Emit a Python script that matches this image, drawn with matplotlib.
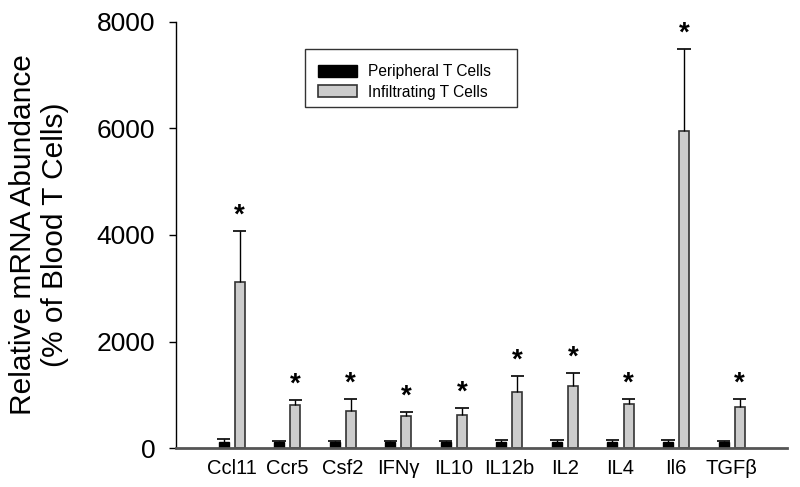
import numpy as np
import matplotlib
matplotlib.use("Agg")
import matplotlib.pyplot as plt
import matplotlib.patches as mpatches

plt.rcParams["font.family"] = ["Liberation Sans", "DejaVu Sans"]

genes = ["Ccl11", "Ccr5", "Csf2", "IFN\u03b3", "IL10", "IL12b", "IL2", "IL4", "Il6", "TGF\u03b2"]
peripheral = [112, 112, 110, 110, 110, 110, 112, 112, 110, 110]
peripheral_top = [172, 135, 140, 126, 132, 145, 150, 145, 157, 139]
infiltrating = [3117, 802, 702, 608, 614, 1052, 1159, 834, 5953, 777]
infiltrating_top = [4075, 901, 920, 676, 745, 1346, 1405, 927, 7490, 914]
significant = [True] * 10

x = np.arange(len(genes))
w = 0.18
off = 0.145
cap = 0.12

fig = plt.figure(figsize=(8, 4.87), dpi=100)
ax = fig.add_axes([0.22, 0.080, 0.764, 0.875])

b1 = ax.bar(x - off, peripheral, w, color="black", edgecolor="black", lw=1.0,
            label="Peripheral T Cells", zorder=2)
b2 = ax.bar(x + off, infiltrating, w, color="#cccccc", edgecolor="#333333", lw=1.2,
            label="Infiltrating T Cells", zorder=2)

# upper error whiskers only
for xs, lo, hi in ((x - off, peripheral, peripheral_top), (x + off, infiltrating, infiltrating_top)):
    ax.vlines(xs, lo, hi, color="black", lw=1.0, zorder=3)
    ax.hlines(hi, xs - cap, xs + cap, color="black", lw=1.2, zorder=3)

for xi, top, sig in zip(x + off, infiltrating_top, significant):
    if sig:
        ax.annotate("*", xy=(xi, top), xytext=(0, 11), textcoords="offset points",
                    ha="center", va="center", fontsize=20, fontweight="bold", zorder=4)

ax.set_xlim(-1.0, 10.0)
ax.set_ylim(0, 8000)
ax.set_yticks([0, 2000, 4000, 6000, 8000])
ax.set_xticks(x)
ax.set_xticklabels(genes)
ax.tick_params(axis="y", labelsize=19, length=5, width=1.0, pad=10, direction="out")
ax.tick_params(axis="x", labelsize=14.5, length=0, pad=8)

for s in ("top", "right"):
    ax.spines[s].set_visible(False)
ax.spines["left"].set_linewidth(1.0)
ax.spines["bottom"].set_linewidth(2.0)
ax.spines["bottom"].set_color("#555555")

fig.text(39 / 800, 1 - 235 / 487, "Relative mRNA Abundance\n(% of Blood T Cells)",
         rotation=90, ha="center", va="center", fontsize=21.5, linespacing=1.15)

# legend with a hand-sized frame
frame = mpatches.Rectangle((305 / 800, 1 - 107 / 487), 212 / 800, 58 / 487,
                           transform=fig.transFigure, facecolor="white",
                           edgecolor="#333333", lw=1.0, zorder=5)
fig.patches.append(frame)
leg = fig.legend(handles=[b1, b2], loc="center left",
                 bbox_to_anchor=(306 / 800, 1 - 82 / 487), frameon=False,
                 fontsize=11.2, handlelength=2.5, handleheight=0.8,
                 handletextpad=0.7, labelspacing=0.35, borderpad=0.3)
leg.set_zorder(6)

fig.savefig("out.png", dpi=100)
